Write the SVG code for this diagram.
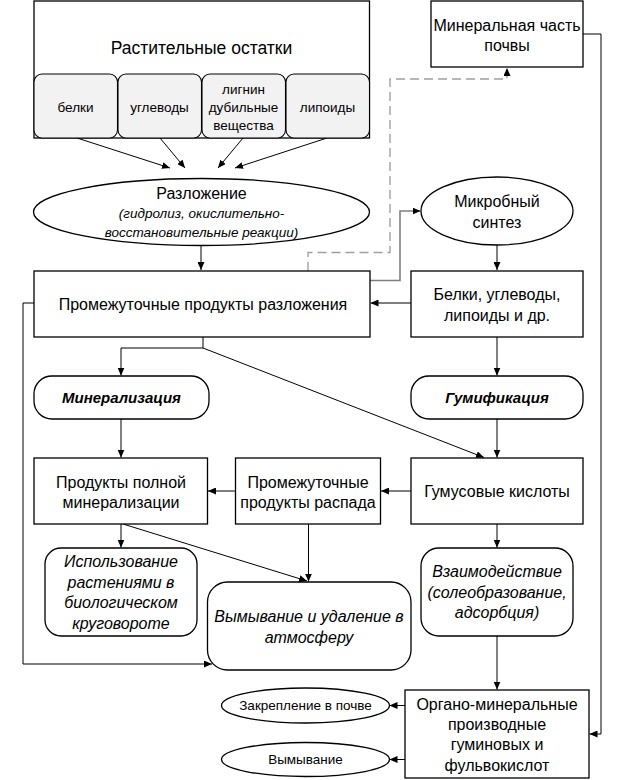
<svg xmlns="http://www.w3.org/2000/svg" width="623" height="780" viewBox="0 0 623 780">
<defs>
<marker id="ah" markerUnits="userSpaceOnUse" markerWidth="8" markerHeight="7" refX="8" refY="3.5" orient="auto">
<path d="M0,0 L8,3.5 L0,7 z" fill="#000"/>
</marker>
<style>
text{font-family:"Liberation Sans",Arial,sans-serif;fill:#000;text-anchor:middle}
.b{fill:#fff;stroke:#000;stroke-width:1.3}
.s{fill:#f2f2f2;stroke:#000;stroke-width:1.1}
.t{font-size:16px}
.m{font-size:13.5px}
.i{font-style:italic}
.bi{font-style:italic;font-weight:bold;font-size:15px}
.c{fill:none;stroke:#000;stroke-width:1;marker-end:url(#ah)}
.g{fill:none;stroke:#7f7f7f;stroke-width:1.6;marker-end:url(#ah)}
.d{fill:none;stroke:#a0a0a0;stroke-width:1.4;stroke-dasharray:9 5;marker-end:url(#ah)}
</style>
</defs>
<rect width="623" height="780" fill="#fff"/>

<g id="connectors">
<path class="c" d="M77,138 L170,168"/>
<path class="c" d="M160,138 L185,168"/>
<path class="c" d="M243,138 L218,168"/>
<path class="c" d="M327,138 L235,168"/>
<path class="c" d="M201,245 V270"/>
<path class="d" d="M308,271 V252.5 H390 V79 H507 V68"/>
<path class="g" d="M370,280.5 H400 V211 H420.5"/>
<path class="c" d="M497,245 V270"/>
<path class="c" d="M411,303 H370.5"/>
<path class="c" d="M203,337 V348 H121 V375.5"/>
<path class="c" d="M203,348 L484,457.5"/>
<path class="c" d="M497,337 V375.5"/>
<path class="c" d="M121,419 V457.5"/>
<path class="c" d="M497,419 V457.5"/>
<path class="c" d="M411,491 H381"/>
<path class="c" d="M235.5,491 H208"/>
<path class="c" d="M34,303 H23 V664 H212"/>
<path class="c" d="M583,34 H601 V734 H589.5"/>
<path class="c" d="M121,524 V547.5"/>
<path class="c" d="M123,524 L307,581"/>
<path class="c" d="M308.5,524 V581.5"/>
<path class="c" d="M497,524 V547.5"/>
<path class="c" d="M497,636 V689.5"/>
<path class="c" d="M405,705.5 H389.5"/>
<path class="c" d="M405,759.5 H389.5"/>
</g>

<g id="rastitelnye">
<rect class="b" x="34" y="1" width="335.5" height="137"/>
<text x="201.5" y="54" font-size="17.5">Растительные остатки</text>
</g>
<g id="belki1">
<rect class="s" x="34" y="74" width="83.5" height="64" rx="8"/>
<text class="m" x="75.5" y="111.5">белки</text>
</g>
<g id="uglevody1">
<rect class="s" x="118" y="74" width="83.5" height="64" rx="8"/>
<text class="m" x="159.5" y="111.5">углеводы</text>
</g>
<g id="lignin">
<rect class="s" x="202" y="74" width="83.5" height="64" rx="8"/>
<text class="m" x="243.5" y="93.5">лигнин</text>
<text class="m" x="243.5" y="111.5">дубильные</text>
<text class="m" x="243.5" y="129.5">вещества</text>
</g>
<g id="lipoidy1">
<rect class="s" x="286" y="74" width="83.5" height="64" rx="8"/>
<text class="m" x="327.5" y="111.5">липоиды</text>
</g>

<g id="mineralnaya">
<rect class="b" x="431" y="1" width="152" height="66"/>
<text class="t" x="507" y="30.5">Минеральная часть</text>
<text class="t" x="507" y="50.5">почвы</text>
</g>

<g id="razlozhenie">
<ellipse class="b" cx="201.5" cy="212" rx="168" ry="33.5"/>
<text class="t" x="201.5" y="198.5">Разложение</text>
<text class="m i" x="201.5" y="218">(гидролиз, окислительно-</text>
<text class="m i" x="201.5" y="237">восстановительные реакции)</text>
</g>

<g id="mikrobny">
<ellipse class="b" cx="497" cy="211" rx="76" ry="34"/>
<text class="t" x="497" y="206.5">Микробный</text>
<text class="t" x="497" y="227.5">синтез</text>
</g>

<g id="promezhutochnye">
<rect class="b" x="34" y="271" width="336" height="66"/>
<text class="t" x="203" y="309.5">Промежуточные продукты разложения</text>
</g>

<g id="belki2">
<rect class="b" x="411" y="271" width="172" height="66"/>
<text class="t" x="497" y="299.5">Белки, углеводы,</text>
<text class="t" x="497" y="320.5">липоиды и др.</text>
</g>

<g id="mineralizaciya">
<rect class="b" x="34" y="376" width="175" height="43" rx="18"/>
<text class="bi" x="121.5" y="403">Минерализация</text>
</g>

<g id="gumifikaciya">
<rect class="b" x="411" y="376" width="172" height="43" rx="18"/>
<text class="bi" x="497" y="403">Гумификация</text>
</g>

<g id="produkty-polnoy">
<rect class="b" x="34" y="458" width="173.5" height="66"/>
<text class="t" x="121" y="487.5">Продукты полной</text>
<text class="t" x="121" y="507.5">минерализации</text>
</g>

<g id="produkty-raspada">
<rect class="b" x="235.5" y="458" width="145" height="66"/>
<text class="t" x="308" y="487.5">Промежуточные</text>
<text class="t" x="308" y="507.5">продукты распада</text>
</g>

<g id="gumusovye">
<rect class="b" x="411" y="458" width="172" height="66"/>
<text class="t" x="497" y="497">Гумусовые кислоты</text>
</g>

<g id="ispolzovanie">
<rect class="b" x="45" y="548" width="152" height="88" rx="16"/>
<text class="t i" x="121" y="567">Использование</text>
<text class="t i" x="121" y="587.5">растениями в</text>
<text class="t i" x="121" y="608">биологическом</text>
<text class="t i" x="121" y="628.5">круговороте</text>
</g>

<g id="vymyvanie-udalenie">
<rect class="b" x="207.5" y="582" width="203.5" height="88" rx="20"/>
<text class="t i" x="309" y="622">Вымывание и удаление в</text>
<text class="t i" x="309" y="642.5">атмосферу</text>
</g>

<g id="vzaimodeystvie">
<rect class="b" x="421" y="548" width="152" height="88" rx="18"/>
<text class="t i" x="497" y="577">Взаимодействие</text>
<text class="t i" x="497" y="597.5">(солеобразование,</text>
<text class="t i" x="497" y="618">адсорбция)</text>
</g>

<g id="organo">
<rect class="b" x="405" y="690" width="184" height="88"/>
<text class="t" x="497" y="709.5">Органо-минеральные</text>
<text class="t" x="497" y="729.5">производные</text>
<text class="t" x="497" y="750">гуминовых и</text>
<text class="t" x="497" y="771">фульвокислот</text>
</g>

<g id="zakreplenie">
<ellipse class="b" cx="305.5" cy="705.5" rx="84" ry="17.5"/>
<text class="m" x="305.5" y="710">Закрепление в почве</text>
</g>

<g id="vymyvanie">
<ellipse class="b" cx="305.5" cy="759.5" rx="84" ry="17"/>
<text class="m" x="305.5" y="764">Вымывание</text>
</g>
</svg>
